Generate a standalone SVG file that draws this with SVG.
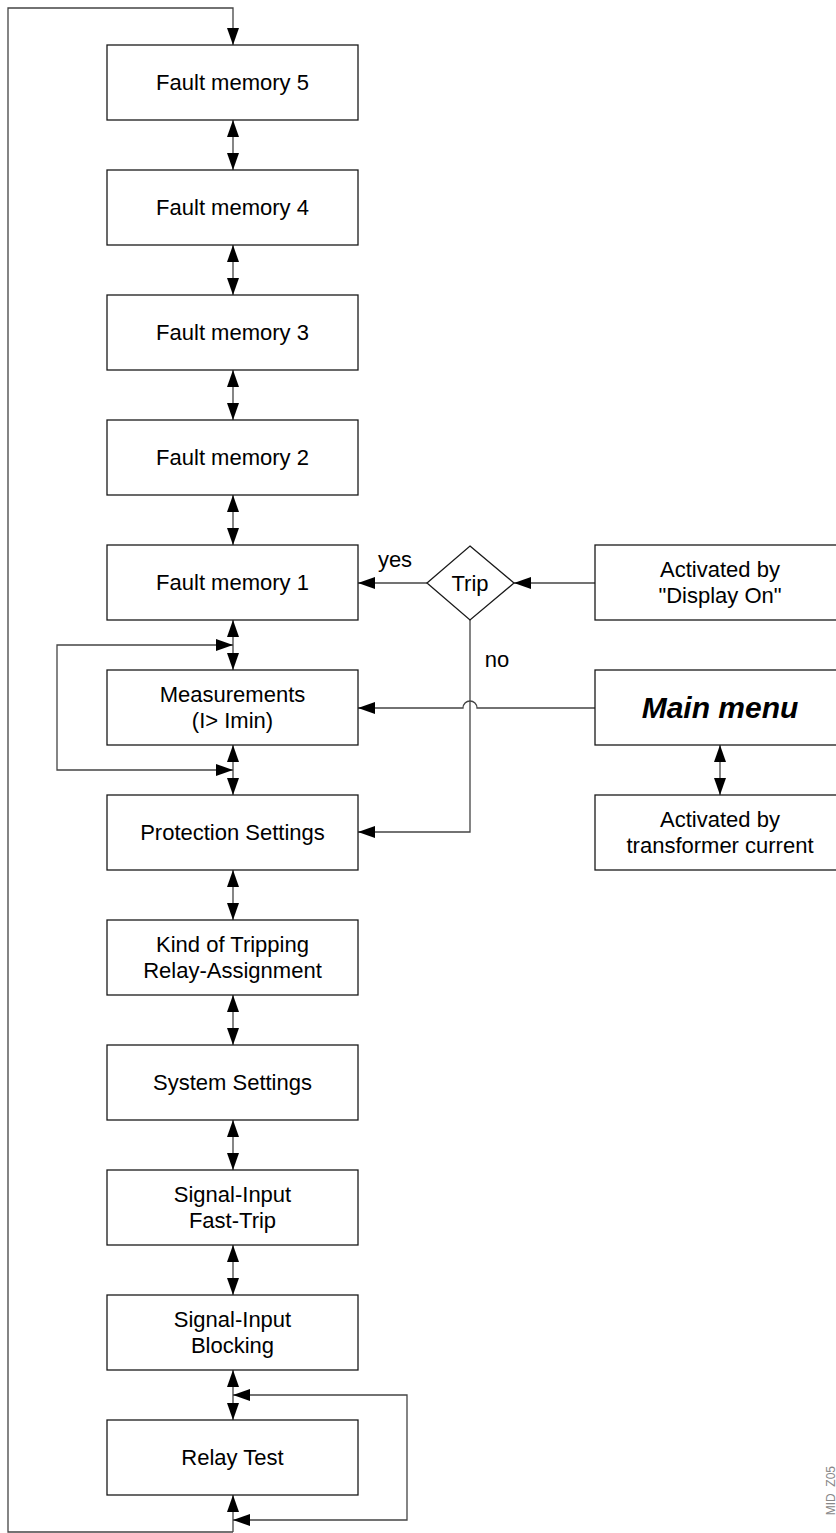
<svg xmlns="http://www.w3.org/2000/svg" width="836" height="1533" viewBox="0 0 836 1533">
<defs>
<marker id="ah" viewBox="0 0 17 12" refX="17" refY="6" markerWidth="17" markerHeight="12" markerUnits="userSpaceOnUse" orient="auto-start-reverse">
<path d="M0,0 L17,6 L0,12 z" fill="#000"/>
</marker>
</defs>
<style>
.box{fill:#fff;stroke:#1a1a1a;stroke-width:1.3}
.ln{fill:none;stroke:#444;stroke-width:1.3}
.t{font-family:"Liberation Sans",Arial,sans-serif;font-size:22px;fill:#000;text-anchor:middle}
.mm{font-family:"Liberation Sans",Arial,sans-serif;font-size:30px;font-weight:bold;font-style:italic;fill:#000;text-anchor:middle}
.e{marker-end:url(#ah)}
.d{marker-start:url(#ah);marker-end:url(#ah)}
</style>
<rect width="836" height="1533" fill="#fff"/>
<g id="connectors">
<path class="ln e" d="M233,1532 H8 V8 H233 V45"/>
<path class="ln d" d="M233,120 V170"/>
<path class="ln d" d="M233,245 V295"/>
<path class="ln d" d="M233,370 V420"/>
<path class="ln d" d="M233,495 V545"/>
<path class="ln d" d="M233,620 V670"/>
<path class="ln d" d="M233,745 V795"/>
<path class="ln d" d="M233,870 V920"/>
<path class="ln d" d="M233,995 V1045"/>
<path class="ln d" d="M233,1120 V1170"/>
<path class="ln d" d="M233,1245 V1295"/>
<path class="ln d" d="M233,1370 V1420"/>
<path class="ln e" d="M233,1532 V1495"/>
<path class="ln e" d="M57,700 V645 H233"/>
<path class="ln e" d="M57,700 V770 H233"/>
<path class="ln e" d="M407,1450 V1395 H233"/>
<path class="ln e" d="M407,1450 V1520 H233"/>
<path class="ln e" d="M427,583 H358"/>
<path class="ln e" d="M595,583 H514"/>
<path class="ln e" d="M595,708 H477 A7,7 0 0 0 463,708 H358"/>
<path class="ln e" d="M470,620 V832 H358"/>
<path class="ln d" d="M720,745 V795"/>
</g>
<g id="fm5"><rect class="box" x="107" y="45" width="251" height="75"/><text class="t" x="232.5" y="90">Fault memory 5</text></g>
<g id="fm4"><rect class="box" x="107" y="170" width="251" height="75"/><text class="t" x="232.5" y="215">Fault memory 4</text></g>
<g id="fm3"><rect class="box" x="107" y="295" width="251" height="75"/><text class="t" x="232.5" y="340">Fault memory 3</text></g>
<g id="fm2"><rect class="box" x="107" y="420" width="251" height="75"/><text class="t" x="232.5" y="465">Fault memory 2</text></g>
<g id="fm1"><rect class="box" x="107" y="545" width="251" height="75"/><text class="t" x="232.5" y="590">Fault memory 1</text></g>
<g id="meas"><rect class="box" x="107" y="670" width="251" height="75"/><text class="t" x="232.5" y="702">Measurements</text><text class="t" x="232.5" y="728">(I&gt; Imin)</text></g>
<g id="prot"><rect class="box" x="107" y="795" width="251" height="75"/><text class="t" x="232.5" y="840">Protection Settings</text></g>
<g id="kind"><rect class="box" x="107" y="920" width="251" height="75"/><text class="t" x="232.5" y="952">Kind of Tripping</text><text class="t" x="232.5" y="978">Relay-Assignment</text></g>
<g id="sys"><rect class="box" x="107" y="1045" width="251" height="75"/><text class="t" x="232.5" y="1090">System Settings</text></g>
<g id="sift"><rect class="box" x="107" y="1170" width="251" height="75"/><text class="t" x="232.5" y="1202">Signal-Input</text><text class="t" x="232.5" y="1228">Fast-Trip</text></g>
<g id="sibl"><rect class="box" x="107" y="1295" width="251" height="75"/><text class="t" x="232.5" y="1327">Signal-Input</text><text class="t" x="232.5" y="1353">Blocking</text></g>
<g id="relay"><rect class="box" x="107" y="1420" width="251" height="75"/><text class="t" x="232.5" y="1465">Relay Test</text></g>
<g id="trip"><path class="box" d="M470,546 L514,583 L470,620 L427,583 z"/><text class="t" x="470" y="591">Trip</text></g>
<g id="lbl-yes"><text class="t" x="395" y="567">yes</text></g>
<g id="lbl-no"><text class="t" x="497" y="667">no</text></g>
<g id="disp"><rect class="box" x="595" y="545" width="252" height="75"/><text class="t" x="720" y="577">Activated by</text><text class="t" x="720" y="603">"Display On"</text></g>
<g id="main"><rect class="box" x="595" y="670" width="252" height="75"/><text class="mm" x="720" y="718">Main menu</text></g>
<g id="trans"><rect class="box" x="595" y="795" width="252" height="75"/><text class="t" x="720" y="827">Activated by</text><text class="t" x="720" y="853">transformer current</text></g>
<g id="code"><text x="835" y="1466" text-anchor="end" transform="rotate(-90 835 1466)" style="font-family:'Liberation Sans',Arial,sans-serif;font-size:12px;fill:#888">MID_Z05</text></g>
</svg>
